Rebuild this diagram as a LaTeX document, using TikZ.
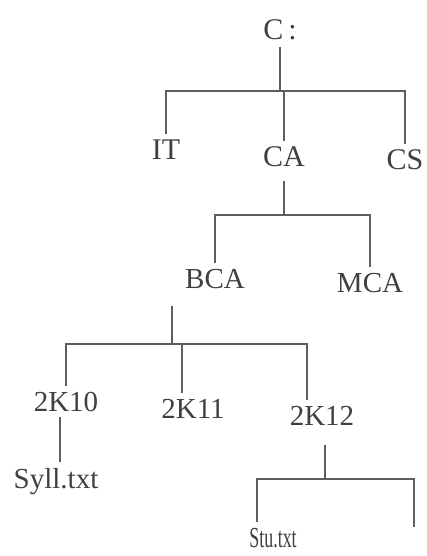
\documentclass[tikz,border=0pt]{standalone}
\usepackage{fontspec}
\setmainfont{Liberation Serif}
\definecolor{inkc}{HTML}{404040}
\definecolor{linec}{HTML}{5E5E5E}

\begin{document}
\begin{tikzpicture}[x=1pt, y=-1pt,
      lbl/.style={anchor=base, inner sep=6pt, text=inkc, font=\fontsize{29}{33}\selectfont},
      big/.style={lbl, font=\fontsize{30}{34}\selectfont},
      ln/.style={linec, line width=2.6pt}]
    \useasboundingbox[fill=white] (0,0) rectangle (426,556);
    \node[big] (root) at (280,40)  {C\,:};
    \node[big] (it)   at (166,160) {IT};
    \node[big] (ca)   at (284,167) {CA};
    \node[big] (cs)   at (405,170) {CS};
    \node[lbl] (bca)  at (215,288) {BCA};
    \node[lbl] (mca)  at (370,292) {MCA};
    \node[lbl] (k10)  at (66,411)  {2K10};
    \node[lbl] (k11)  at (193,418) {2K11};
    \node[lbl] (k12)  at (322,425) {2K12};
    \node[lbl] (syll) at (56,488)  {Syll.txt};
    \node[lbl] (stu)  at (273,547) {\scalebox{0.62}[1]{Stu.txt}};
    \coordinate (j1) at (280,91);
    \coordinate (j2) at (284,215);
    \coordinate (j3) at (172,344);
    \coordinate (j4) at (325,479);
    \coordinate (e4) at (414,527);
    \draw[ln] (root) -- (j1);
    \draw[ln] (it) |- (j1) -| (cs);
    \draw[ln] (ca) -- (ca |- j1);
    \draw[ln] ([yshift=-8pt]ca.south) -- (j2);
    \draw[ln] (bca) |- (j2) -| (mca);
    \draw[ln] ([xshift=-43pt, yshift=-12pt]bca.south) -- ([xshift=-43pt]bca.south |- j3);
    \draw[ln] (k10) |- (j3) -| ([xshift=-15pt]k12.north);
    \draw[ln] ([xshift=-11pt]k11.north) -- ([xshift=-11pt]k11.north |- j3);
    \draw[ln] ([xshift=-6pt]k10.south) -- ([xshift=-6pt]k10.south |- syll.north);
    \draw[ln] ([xshift=3pt, yshift=-14pt]k12.south) -- ([xshift=3pt]k12.south |- j4);
    \draw[ln] ([xshift=-16pt]stu.north) |- (j4) -| (e4);
  \end{tikzpicture}
\end{document}
